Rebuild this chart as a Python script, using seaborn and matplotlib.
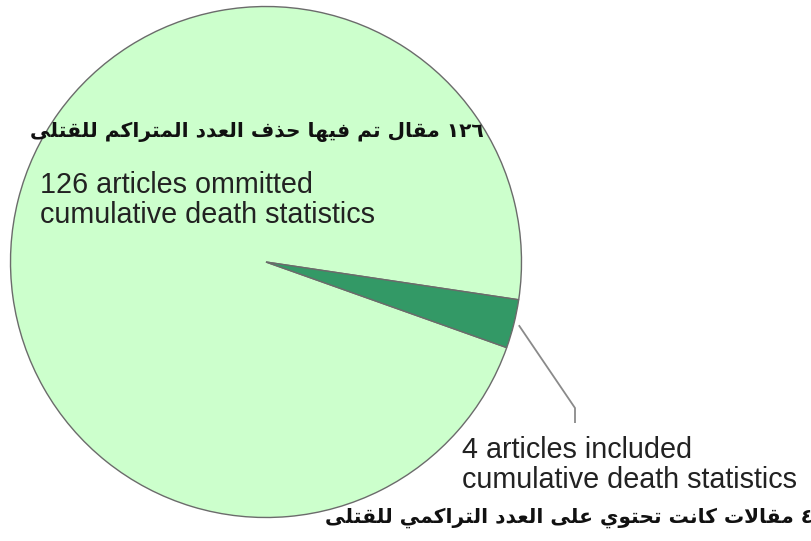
import numpy as np
import matplotlib
matplotlib.use("Agg")
import matplotlib.pyplot as plt
import seaborn as sns

# ==========================================================
#  DATA
# ==========================================================
counts = [126, 4]
labels_en = [
    ["126 articles ommitted", "cumulative death statistics"],
    ["4 articles included", "cumulative death statistics"],
]
labels_ar = [
    "١٢٦ مقال تم فيها حذف العدد المتراكم للقتلى",
    "٤ مقالات كانت تحتوي على العدد التراكمي للقتلى",
]
slice_colors = ["#CCFFCC", "#339966"]

# ==========================================================
#  LAYOUT (pixels, figure is 812x541)
# ==========================================================
W, H = 812, 541
CX, CY, R = 266, 262, 255.5     # pie centre / radius in px


def px2data(px, py):
    return (px - CX) / R, (CY - py) / R


def px2fig(px, py):
    return px / W, 1 - py / H


# ==========================================================
#  MINIMAL ARABIC SHAPER (presentation forms, visual order)
# ==========================================================
FORMS = {
    "\u0627": ("\uFE8D", "\uFE8E", None, None),
    "\u062F": ("\uFEA9", "\uFEAA", None, None),
    "\u0630": ("\uFEAB", "\uFEAC", None, None),
    "\u0631": ("\uFEAD", "\uFEAE", None, None),
    "\u0648": ("\uFEED", "\uFEEE", None, None),
    "\u0649": ("\uFEEF", "\uFEF0", None, None),
    "\u062A": ("\uFE95", "\uFE96", "\uFE97", "\uFE98"),
    "\u062D": ("\uFEA1", "\uFEA2", "\uFEA3", "\uFEA4"),
    "\u0639": ("\uFEC9", "\uFECA", "\uFECB", "\uFECC"),
    "\u0641": ("\uFED1", "\uFED2", "\uFED3", "\uFED4"),
    "\u0642": ("\uFED5", "\uFED6", "\uFED7", "\uFED8"),
    "\u0643": ("\uFED9", "\uFEDA", "\uFEDB", "\uFEDC"),
    "\u0644": ("\uFEDD", "\uFEDE", "\uFEDF", "\uFEE0"),
    "\u0645": ("\uFEE1", "\uFEE2", "\uFEE3", "\uFEE4"),
    "\u0646": ("\uFEE5", "\uFEE6", "\uFEE7", "\uFEE8"),
    "\u0647": ("\uFEE9", "\uFEEA", "\uFEEB", "\uFEEC"),
    "\u064A": ("\uFEF1", "\uFEF2", "\uFEF3", "\uFEF4"),
}


def joins_left(c):
    return c in FORMS and FORMS[c][2] is not None


def shape_word(w):
    out = []
    i = 0
    while i < len(w):
        c = w[i]
        if c not in FORMS:
            out.append(c)
            i += 1
            continue
        from_prev = i > 0 and joins_left(w[i - 1])
        # lam-alef ligature
        if c == "\u0644" and i + 1 < len(w) and w[i + 1] == "\u0627":
            out.append("\uFEFC" if from_prev else "\uFEFB")
            i += 2
            continue
        to_next = joins_left(c) and i + 1 < len(w) and w[i + 1] in FORMS
        iso, fin, ini, med = FORMS[c]
        if from_prev and to_next:
            out.append(med)
        elif from_prev:
            out.append(fin)
        elif to_next:
            out.append(ini)
        else:
            out.append(iso)
        i += 1
    return "".join(out)


def arabic_visual(text):
    words = text.split(" ")
    return " ".join(w if w.isdigit() else shape_word(w)[::-1] for w in reversed(words))


# ==========================================================
#  PLOT
# ==========================================================
sns.set_theme(style="white")
plt.rcParams["font.family"] = ["Liberation Sans", "DejaVu Sans"]

fig = plt.figure(figsize=(W / 100, H / 100), dpi=100)
ax = fig.add_axes([0, 0, 1, 1])

wedges, _ = ax.pie(
    counts,
    colors=slice_colors,
    startangle=-8.5,
    counterclock=True,
    wedgeprops=dict(edgecolor="#6b6b6b", linewidth=1.0),
)
ax.set_aspect("auto")
ax.set_xlim(-CX / R, (W - CX) / R)
ax.set_ylim((CY - H) / R, CY / R)
ax.axis("off")

# leader line for the small slice
w = wedges[1]
mid = np.deg2rad((w.theta1 + w.theta2) / 2)
start = (1.02 * np.cos(mid), 1.02 * np.sin(mid))
knee = px2data(575, 408)
end = px2data(575, 423)
ax.plot([start[0], knee[0], end[0]], [start[1], knee[1], end[1]],
        color="#8a8a8a", lw=1.3, solid_capstyle="butt")

# english labels
text_kw = dict(fontsize=20.7, color="#222222", va="baseline", ha="left")
en_pos = [(40, 193), (462, 458)]
for (x, y), lines in zip(en_pos, labels_en):
    for k, line in enumerate(lines):
        fig.text(*px2fig(x, y + 30 * k), line, **text_kw)

# arabic labels
ar_pos = [(484, 132), (813, 518)]
for (x, y), txt in zip(ar_pos, labels_ar):
    fig.text(*px2fig(x, y), arabic_visual(txt), fontsize=14.5, fontweight="bold",
             family="DejaVu Sans", color="#111111", ha="right", va="center")

fig.savefig("out.png", dpi=100)
